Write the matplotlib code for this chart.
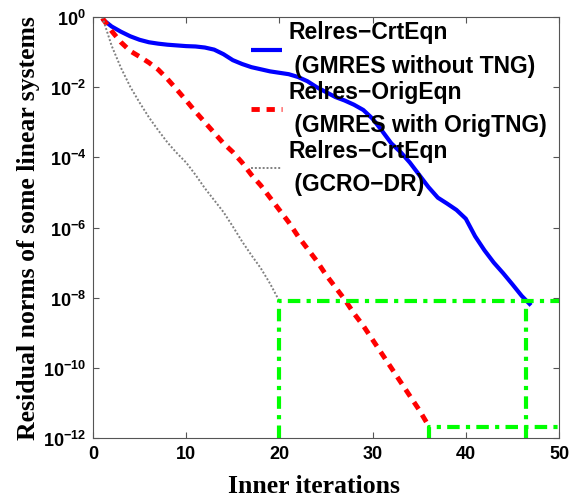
import numpy as np
import matplotlib
matplotlib.use('Agg')
import matplotlib.pyplot as plt

plt.rcParams['font.family'] = ['Liberation Sans', 'DejaVu Sans']
plt.rcParams['mathtext.fontset'] = 'custom'
plt.rcParams['mathtext.bf'] = 'Liberation Sans:bold'
plt.rcParams['mathtext.rm'] = 'Liberation Sans:bold'

# log10 of relative residuals
it_crt = np.arange(1, 48)
log_crt = [-0.06, -0.27, -0.42, -0.55, -0.65, -0.72, -0.76, -0.79, -0.81, -0.83,
           -0.84, -0.87, -0.93, -1.06, -1.23, -1.34, -1.43, -1.49, -1.55, -1.59,
           -1.63, -1.71, -1.83, -2.0, -2.14, -2.28, -2.38, -2.5, -2.65, -2.9,
           -3.24, -3.6, -3.85, -4.15, -4.5, -4.85, -5.15, -5.32, -5.5, -5.75,
           -6.25, -6.65, -7.0, -7.3, -7.62, -7.95, -8.22]

it_orig = np.arange(1, 37)
log_orig = [-0.03, -0.4, -0.72, -0.97, -1.13, -1.3, -1.5, -1.77, -2.07, -2.38,
            -2.7, -3.0, -3.3, -3.6, -3.85, -4.15, -4.5, -4.8, -5.15, -5.5,
            -5.85, -6.25, -6.6, -6.95, -7.35, -7.7, -8.05, -8.45, -8.8, -9.2,
            -9.6, -10.0, -10.4, -10.8, -11.2, -11.65]

it_gcro = np.arange(1, 21)
log_gcro = [0.0, -0.82, -1.45, -1.99, -2.44, -2.86, -3.23, -3.58, -3.88, -4.15,
            -4.5, -4.88, -5.22, -5.56, -5.97, -6.4, -6.79, -7.16, -7.6, -8.1]

# green guide boxes
box1_x = [20, 46.5]
box1_level = 10 ** -8.1
box2_x = 36
box2_level = 10 ** -11.7

labels = ['Relres\u2212CrtEqn\n (GMRES without TNG)',
          'Relres\u2212OrigEqn\n (GMRES with OrigTNG)',
          'Relres\u2212CrtEqn\n (GCRO\u2212DR)']

fig = plt.figure(figsize=(5.71, 5.02), dpi=100)
ax = fig.add_axes([93/571, 1-439/502, 466/571, 421/502])

l1, = ax.semilogy(it_crt, 10 ** np.array(log_crt), color='#0000ff', lw=3, solid_capstyle='butt')
l2, = ax.semilogy(it_orig, 10 ** np.array(log_orig), color='#ff0000', lw=3.5, ls=(0, (1.7, 1.4)))
l3, = ax.semilogy(it_gcro, 10 ** np.array(log_gcro), color='#808080', lw=1.4, ls=(0, (1, 1)))

green = dict(color='#00ff00', lw=3, ls=(0, (3, 1.5, 1, 1.5)))
ax.plot([box1_x[0], box1_x[0], 50], [1e-12, box1_level, box1_level], **green)
ax.plot([box1_x[1], box1_x[1]], [1e-12, box1_level], **green)
ax.plot([box2_x, box2_x, 50], [1e-12, box2_level, box2_level], **green)

ax.set_xlim(0, 50)
ax.set_ylim(1e-12, 1)
ax.set_xticks([0, 10, 20, 30, 40, 50])
ax.set_xticklabels(['0', '10', '20', '30', '40', '50'], fontweight='bold', fontsize=13)
yt = [10.0 ** k for k in range(-12, 1, 2)]
ax.set_yticks(yt)
ax.set_yticklabels([r'$\mathbf{10^{%d}}$' % k for k in range(-12, 1, 2)], fontsize=13)
ax.minorticks_off()
ax.tick_params(direction='in', top=True, right=True, length=4, color='#555555', pad=5)
for s in ax.spines.values():
    s.set_color('#555555')

ax.set_xlabel('Inner iterations', family='Liberation Serif', fontweight='bold', fontsize=18.5, labelpad=9)
ax.xaxis.label.set_x(0.474)
ax.set_ylabel('Residual norms of some linear systems', family='Liberation Serif',
              fontweight='bold', fontsize=18.5, labelpad=2)

leg = ax.legend([l1, l2, l3], labels, loc='upper left', bbox_to_anchor=(240/571, 1-10/502),
                bbox_transform=fig.transFigure, frameon=False,
                handlelength=1.35, handletextpad=0.25, labelspacing=0.1, borderpad=0,
                prop={'weight': 'bold', 'size': 16.5})
for t in leg.get_texts():
    t.set_linespacing(1.6)

fig.savefig('out.png', dpi=100)
